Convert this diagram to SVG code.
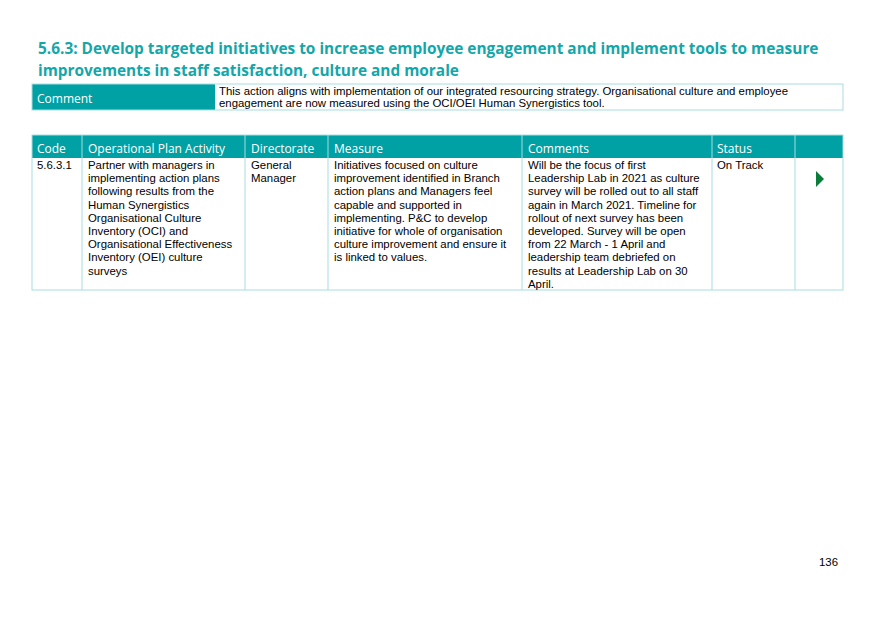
<svg xmlns="http://www.w3.org/2000/svg" width="875" height="619" viewBox="0 0 875 619">
<style>
.t{font-family:"Liberation Sans",Arial,sans-serif;font-size:11.4px;fill:#000}
.h{font-family:"Open Sans","Noto Sans",sans-serif;font-size:12px;fill:#fff}
.ttl{font-family:"Open Sans","Noto Sans",sans-serif;font-size:15.4px;font-weight:bold;fill:#14a6a9}
.g{stroke:#a8dde0;stroke-width:1;fill:none}
</style>
<rect width="875" height="619" fill="#fff"/>
<text class="ttl" x="38" y="54">5.6.3: Develop targeted initiatives to increase employee engagement and implement tools to measure</text>
<text class="ttl" x="38" y="76">improvements in staff satisfaction, culture and morale</text>
<rect x="32" y="84" width="183" height="26" fill="#00a1a4"/>
<rect x="32" y="84" width="811" height="26" class="g"/>
<text class="h" x="37" y="103">Comment</text>
<text class="t" x="219" y="95">This action aligns with implementation of our integrated resourcing strategy. Organisational culture and employee</text>
<text class="t" x="219" y="107">engagement are now measured using the OCI/OEI Human Synergistics tool.</text>
<rect x="32" y="135" width="811" height="23" fill="#00a1a4"/>
<rect x="32" y="135" width="811" height="155" class="g"/>
<path class="g" d="M82 135V290M245 135V290M328 135V290M522 135V290M712 135V290M795 135V290"/>
<g class="h"><text x="37" y="153">Code</text><text x="88" y="153">Operational Plan Activity</text><text x="251" y="153">Directorate</text><text x="334" y="153">Measure</text><text x="528" y="153">Comments</text><text x="717" y="153">Status</text></g>
<text class="t" x="37" y="169">5.6.3.1</text>
<text class="t"><tspan x="88" y="169">Partner with managers in</tspan><tspan x="88" dy="13.2">implementing action plans</tspan><tspan x="88" dy="13.2">following results from the</tspan><tspan x="88" dy="13.2">Human Synergistics</tspan><tspan x="88" dy="13.2">Organisational Culture</tspan><tspan x="88" dy="13.2">Inventory (OCI) and</tspan><tspan x="88" dy="13.2">Organisational Effectiveness</tspan><tspan x="88" dy="13.2">Inventory (OEI) culture</tspan><tspan x="88" dy="13.2">surveys</tspan></text>
<text class="t"><tspan x="251" y="169">General</tspan><tspan x="251" dy="13.2">Manager</tspan></text>
<text class="t"><tspan x="334" y="169">Initiatives focused on culture</tspan><tspan x="334" dy="13.2">improvement identified in Branch</tspan><tspan x="334" dy="13.2">action plans and Managers feel</tspan><tspan x="334" dy="13.2">capable and supported in</tspan><tspan x="334" dy="13.2">implementing. P&amp;C to develop</tspan><tspan x="334" dy="13.2">initiative for whole of organisation</tspan><tspan x="334" dy="13.2">culture improvement and ensure it</tspan><tspan x="334" dy="13.2">is linked to values.</tspan></text>
<text class="t"><tspan x="528" y="169">Will be the focus of first</tspan><tspan x="528" dy="13.2">Leadership Lab in 2021 as culture</tspan><tspan x="528" dy="13.2">survey will be rolled out to all staff</tspan><tspan x="528" dy="13.2">again in March 2021. Timeline for</tspan><tspan x="528" dy="13.2">rollout of next survey has been</tspan><tspan x="528" dy="13.2">developed. Survey will be open</tspan><tspan x="528" dy="13.2">from 22 March - 1 April and</tspan><tspan x="528" dy="13.2">leadership team debriefed on</tspan><tspan x="528" dy="13.2">results at Leadership Lab on 30</tspan><tspan x="528" dy="13.2">April.</tspan></text>
<text class="t" x="717" y="169">On Track</text>
<polygon points="816,171 824,179 816,187" fill="#0a7d3a"/>
<text class="t" x="819" y="566">136</text>
</svg>
